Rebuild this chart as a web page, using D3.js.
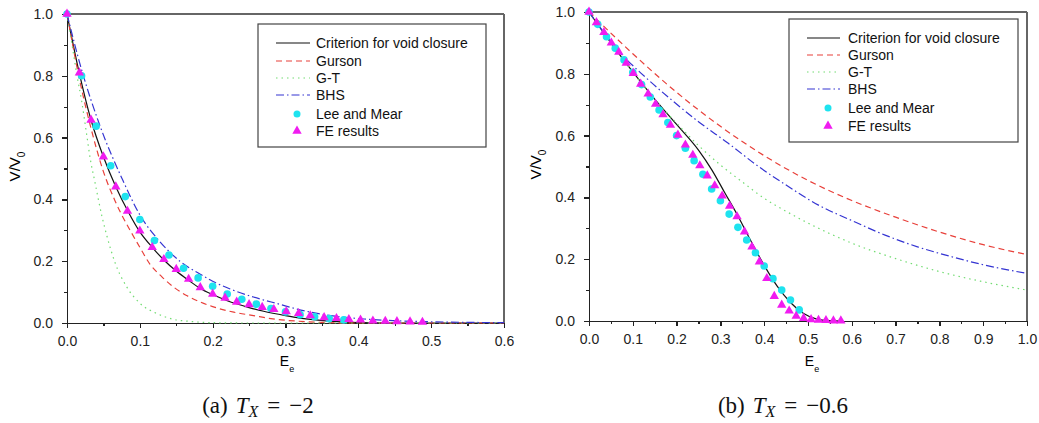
<!DOCTYPE html>
<meta charset="utf-8">
<style>

  body {
    margin: 0;
    background: #fff;
  }

  svg {
    display: block;
    font-family: "Liberation Sans", Arial, sans-serif;
  }

  .axis path,
  .axis line {
    fill: none;
    stroke: #222;
    stroke-width: 1.3px;
    shape-rendering: crispEdges;
  }

  .axis text {
    font-size: 14px;
    fill: #222;
  }

  .frame {
    stroke: #666;
    stroke-width: 1.5px;
    shape-rendering: crispEdges;
  }

  .curve {
    fill: none;
    stroke-width: 1.2px;
  }

  .legend-box {
    fill: #fff;
    stroke: #444;
    stroke-width: 1.2px;
  }

  .legend text {
    font-size: 14px;
    fill: #111;
  }

  .caption {
    font-family: "Liberation Serif", "DejaVu Serif", serif;
    font-size: 23px;
    fill: #111;
  }

</style>
<body>
<script src="https://cdnjs.cloudflare.com/ajax/libs/d3/7.8.5/d3.min.js"></script>
<script>

  // Tick labels.
  var leftXTicks = [0, 0.1, 0.2, 0.3, 0.4, 0.5, 0.6];
  var rightXTicks = [0, 0.1, 0.2, 0.3, 0.4, 0.5, 0.6, 0.7, 0.8, 0.9, 1.0];
  var yTicks = [0, 0.2, 0.4, 0.6, 0.8, 1.0];

  var legendLabels = ["Criterion for void closure", "Gurson", "G-T", "BHS", "Lee and Mear", "FE results"];

  // (a) T_X = -2, values as [E_e, V/V0].
  var leftCriterion = [[0, 1], [0.0165, 0.813], [0.033, 0.657], [0.05, 0.538], [0.067, 0.441], [0.084, 0.36],
    [0.1, 0.295], [0.117, 0.245], [0.133, 0.204], [0.15, 0.168], [0.167, 0.138], [0.183, 0.112], [0.2, 0.092],
    [0.22, 0.072], [0.25, 0.05], [0.27, 0.038], [0.3, 0.024], [0.32, 0.016], [0.36, 0.006], [0.4, 0.001],
    [0.45, 0], [0.6, 0]];
  var leftGurson = [[0, 1], [0.017, 0.79], [0.033, 0.63], [0.05, 0.49], [0.066, 0.395], [0.089, 0.29],
    [0.1, 0.245], [0.114, 0.19], [0.13, 0.15], [0.146, 0.117], [0.165, 0.088], [0.183, 0.068], [0.2, 0.053],
    [0.229, 0.035], [0.256, 0.024], [0.28, 0.014], [0.316, 0.006], [0.35, 0.002], [0.4, 0], [0.6, 0]];
  var leftGT = [[0, 1], [0.007, 0.9], [0.013, 0.81], [0.02, 0.72], [0.027, 0.61], [0.032, 0.53], [0.038, 0.46],
    [0.048, 0.345], [0.055, 0.28], [0.066, 0.195], [0.082, 0.117], [0.1, 0.064], [0.123, 0.031],
    [0.146, 0.012], [0.17, 0.005], [0.2, 0.001], [0.25, 0], [0.6, 0]];
  var leftBHS = [[0, 1], [0.02, 0.82], [0.045, 0.64], [0.077, 0.46], [0.1, 0.35], [0.128, 0.262], [0.155, 0.2],
    [0.183, 0.158], [0.2, 0.135], [0.224, 0.11], [0.256, 0.084], [0.293, 0.06], [0.316, 0.045], [0.362, 0.024],
    [0.408, 0.013], [0.454, 0.007], [0.5, 0.004], [0.6, 0.001]];
  var leftLeeMear = [[0, 1], [0.02, 0.8], [0.04, 0.637], [0.06, 0.509], [0.08, 0.409], [0.1, 0.335],
    [0.12, 0.267], [0.14, 0.22], [0.16, 0.177], [0.18, 0.146], [0.2, 0.119], [0.22, 0.094], [0.24, 0.077],
    [0.26, 0.061], [0.28, 0.047], [0.3, 0.036], [0.32, 0.027], [0.34, 0.02], [0.36, 0.014], [0.38, 0.01]];
  var leftFE = [[0, 1], [0.017, 0.81], [0.033, 0.657], [0.05, 0.538], [0.067, 0.441], [0.083, 0.362],
    [0.1, 0.298], [0.117, 0.245], [0.133, 0.206], [0.15, 0.174], [0.167, 0.142], [0.183, 0.115], [0.2, 0.094],
    [0.217, 0.081], [0.233, 0.068], [0.25, 0.06], [0.268, 0.051], [0.284, 0.044], [0.301, 0.037],
    [0.318, 0.031], [0.334, 0.024], [0.353, 0.018], [0.37, 0.015], [0.387, 0.012], [0.403, 0.01],
    [0.42, 0.007], [0.437, 0.006], [0.453, 0.005], [0.471, 0.004], [0.488, 0.003]];

  // (b) T_X = -0.6
  var rightCriterion = [[0, 1], [0.05, 0.9], [0.1, 0.806], [0.15, 0.718], [0.2, 0.636], [0.25, 0.553],
    [0.28, 0.49], [0.31, 0.415], [0.34, 0.34], [0.37, 0.258], [0.4, 0.18], [0.43, 0.112], [0.46, 0.06],
    [0.49, 0.024], [0.52, 0.006], [0.55, 0.001], [0.58, 0]];
  var rightGurson = [[0, 1], [0.1, 0.865], [0.2, 0.74], [0.3, 0.63], [0.4, 0.535], [0.5, 0.455], [0.6, 0.39],
    [0.7, 0.336], [0.8, 0.288], [0.9, 0.247], [1.0, 0.215]];
  var rightGT = [[0, 1], [0.05, 0.9], [0.1, 0.805], [0.15, 0.718], [0.2, 0.64], [0.25, 0.568], [0.3, 0.505],
    [0.35, 0.45], [0.4, 0.397], [0.45, 0.355], [0.5, 0.317], [0.6, 0.252], [0.7, 0.202], [0.8, 0.16],
    [0.9, 0.127], [1.0, 0.1]];
  var rightBHS = [[0, 1], [0.07, 0.87], [0.128, 0.79], [0.189, 0.715], [0.25, 0.645], [0.318, 0.575],
    [0.387, 0.5], [0.45, 0.44], [0.524, 0.375], [0.6, 0.325], [0.676, 0.278], [0.75, 0.24], [0.828, 0.208],
    [0.9, 0.182], [1.0, 0.154]];
  var rightLeeMear = [[0, 1], [0.02, 0.96], [0.04, 0.92], [0.06, 0.883], [0.08, 0.845], [0.1, 0.805],
    [0.12, 0.765], [0.14, 0.725], [0.16, 0.683], [0.18, 0.642], [0.2, 0.6], [0.22, 0.559], [0.24, 0.519],
    [0.26, 0.475], [0.28, 0.427], [0.3, 0.389], [0.32, 0.346], [0.34, 0.303], [0.36, 0.262], [0.38, 0.221],
    [0.4, 0.178], [0.42, 0.137], [0.44, 0.1], [0.46, 0.068], [0.48, 0.036]];
  var rightFE = [[0, 1], [0.017, 0.966], [0.034, 0.934], [0.051, 0.9], [0.068, 0.87], [0.085, 0.835],
    [0.101, 0.802], [0.118, 0.767], [0.135, 0.735], [0.152, 0.702], [0.169, 0.668], [0.186, 0.634],
    [0.203, 0.602], [0.22, 0.57], [0.237, 0.537], [0.253, 0.503], [0.27, 0.47], [0.287, 0.438],
    [0.304, 0.405], [0.321, 0.372], [0.338, 0.338], [0.355, 0.289], [0.372, 0.24], [0.389, 0.192],
    [0.406, 0.138], [0.423, 0.08], [0.44, 0.052], [0.457, 0.033], [0.473, 0.016], [0.49, 0.009],
    [0.507, 0.005], [0.524, 0.003], [0.541, 0.002], [0.558, 0.001], [0.575, 0.001]];

  // Line styles, in legend order.
  var lineStyles = [
    {color: "#111", dash: null},
    {color: "#e8403a", dash: "6,4"},
    {color: "#72dc72", dash: "1.5,4"},
    {color: "#3434d2", dash: "8,3,1.5,3"}
  ];
  var circleColor = "#1ee3ef";
  var triangleColor = "#f01cf0";

  var panels = [
    {
      xMax: 0.6, xTicks: leftXTicks, xRange: [67, 504], yRange: [323, 14],
      lines: [leftCriterion, leftGurson, leftGT, leftBHS], circles: leftLeeMear, triangles: leftFE,
      legend: {x: 258, y: 24, w: 228, h: 123, lineX: [276, 310], textX: 316, markX: 297,
        rows: [43, 61, 78, 95, 114, 131]},
      yLabelX: 20, xLabelX: 287, caption: ["(a)", "\u22122"], captionX: 258
    },
    {
      xMax: 1.0, xTicks: rightXTicks, xRange: [589, 1027], yRange: [321, 12],
      lines: [rightCriterion, rightGurson, rightGT, rightBHS], circles: rightLeeMear, triangles: rightFE,
      legend: {x: 789, y: 19, w: 229, h: 123, lineX: [807, 840], textX: 848, markX: 828,
        rows: [38, 55, 72, 89, 108, 126]},
      yLabelX: 541, xLabelX: 812, caption: ["(b)", "\u22120.6"], captionX: 783
    }
  ];

  var svg = d3.select("body").append("svg")
    .attr("width", 1039)
    .attr("height", 423);

  panels.forEach(function(p) {
    var x = d3.scaleLinear().domain([0, p.xMax]).range(p.xRange);
    var y = d3.scaleLinear().domain([0, 1]).range(p.yRange);
    var g = svg.append("g");

    var xMinor = p.xTicks.slice(1).map(function(t, i) { return (t + p.xTicks[i]) / 2; });
    var yMinor = yTicks.slice(1).map(function(t, i) { return (t + yTicks[i]) / 2; });

    // Top and right frame.
    g.append("line").attr("class", "frame")
      .attr("x1", x(0)).attr("x2", x(p.xMax)).attr("y1", y(1)).attr("y2", y(1));
    g.append("line").attr("class", "frame")
      .attr("x1", x(p.xMax)).attr("x2", x(p.xMax)).attr("y1", y(0)).attr("y2", y(1));

    // Minor ticks.
    g.append("g").attr("class", "axis")
      .attr("transform", "translate(0," + y(0) + ")")
      .call(d3.axisBottom(x).tickValues(xMinor).tickSize(3).tickSizeOuter(0).tickFormat(""))
      .select(".domain").remove();
    g.append("g").attr("class", "axis")
      .attr("transform", "translate(" + x(0) + ",0)")
      .call(d3.axisLeft(y).tickValues(yMinor).tickSize(3).tickSizeOuter(0).tickFormat(""))
      .select(".domain").remove();

    // Major axes.
    g.append("g").attr("class", "axis")
      .attr("transform", "translate(0," + y(0) + ")")
      .call(d3.axisBottom(x).tickValues(p.xTicks).tickSize(5).tickSizeOuter(0).tickPadding(8)
        .tickFormat(d3.format(".1f")));
    g.append("g").attr("class", "axis")
      .attr("transform", "translate(" + x(0) + ",0)")
      .call(d3.axisLeft(y).tickValues(yTicks).tickSize(5).tickSizeOuter(0).tickPadding(9)
        .tickFormat(d3.format(".1f")));

    // Curves.
    var line = d3.line()
      .curve(d3.curveMonotoneX)
      .x(function(d) { return x(d[0]); })
      .y(function(d) { return y(d[1]); });

    p.lines.forEach(function(series, i) {
      g.append("path")
        .datum(series)
        .attr("class", "curve")
        .attr("stroke", lineStyles[i].color)
        .attr("stroke-dasharray", lineStyles[i].dash)
        .attr("d", line);
    });

    // Markers.
    g.selectAll(".lee")
      .data(p.circles)
      .enter().append("circle")
      .attr("class", "lee")
      .attr("cx", function(d) { return x(d[0]); })
      .attr("cy", function(d) { return y(d[1]); })
      .attr("r", 3.8)
      .attr("fill", circleColor);

    var tri = d3.symbol().type(d3.symbolTriangle).size(38);
    g.selectAll(".fe")
      .data(p.triangles)
      .enter().append("path")
      .attr("class", "fe")
      .attr("transform", function(d) { return "translate(" + x(d[0]) + "," + y(d[1]) + ")"; })
      .attr("d", tri)
      .attr("fill", triangleColor);

    // Legend.
    var L = p.legend;
    var lg = g.append("g").attr("class", "legend");
    lg.append("rect").attr("class", "legend-box")
      .attr("x", L.x).attr("y", L.y).attr("width", L.w).attr("height", L.h);
    legendLabels.forEach(function(label, i) {
      var cy = L.rows[i];
      if (i < 4) {
        lg.append("line")
          .attr("x1", L.lineX[0]).attr("x2", L.lineX[1]).attr("y1", cy).attr("y2", cy)
          .attr("stroke", lineStyles[i].color)
          .attr("stroke-width", 1.2)
          .attr("stroke-dasharray", lineStyles[i].dash);
      } else if (i === 4) {
        lg.append("circle").attr("cx", L.markX).attr("cy", cy).attr("r", 3.5).attr("fill", circleColor);
      } else {
        lg.append("path").attr("transform", "translate(" + L.markX + "," + cy + ")")
          .attr("d", tri).attr("fill", triangleColor);
      }
      lg.append("text").attr("x", L.textX).attr("y", cy + 5).text(label);
    });

    // Axis titles.
    var yl = g.append("text")
      .attr("transform", "translate(" + p.yLabelX + "," + (y(0.5) - 2) + ") rotate(-90)")
      .attr("text-anchor", "middle")
      .style("font-size", "15px")
      .text("V/V");
    yl.append("tspan").attr("dy", 5).style("font-size", "10px").text("0");

    var xl = g.append("text")
      .attr("x", p.xLabelX).attr("y", 366)
      .attr("text-anchor", "middle")
      .style("font-size", "14px")
      .text("E");
    xl.append("tspan").attr("dy", 6).style("font-size", "9px").text("e");

    // Caption.
    var cap = g.append("text").attr("class", "caption")
      .attr("x", p.captionX).attr("y", 413)
      .attr("text-anchor", "middle")
      .text(p.caption[0]);
    cap.append("tspan").attr("dx", 8).style("font-style", "italic").text("T");
    cap.append("tspan").attr("dy", 4).style("font-style", "italic").style("font-size", "16px").text("X");
    cap.append("tspan").attr("dy", -4).attr("dx", 9).text("=");
    cap.append("tspan").attr("dx", 9).text(p.caption[1]);
  });

</script>
